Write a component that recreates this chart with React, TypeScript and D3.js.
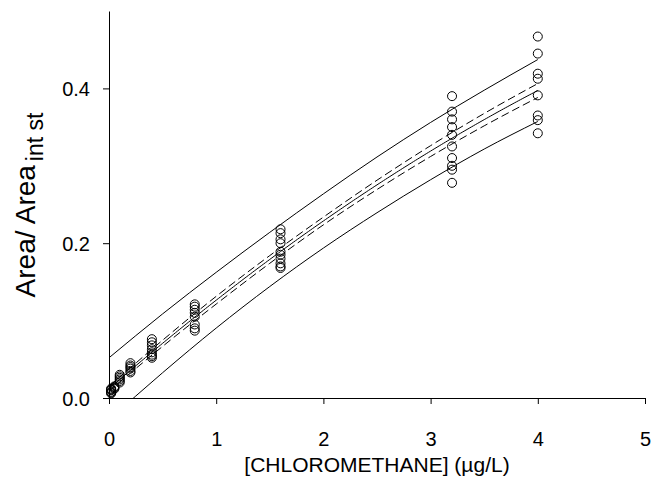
import React, { useEffect, useRef } from 'react';
import * as d3 from 'd3';

// calibration data: concentration (µg/L) and area ratios
const concentrations = [0.02, 0.05, 0.1, 0.2, 0.4, 0.8, 1.6, 3.2, 4.0];
const responses = [
  [0.006, 0.007, 0.008, 0.010, 0.011, 0.012],
  [0.012, 0.013, 0.014, 0.015],
  [0.020, 0.022, 0.024, 0.026, 0.028, 0.030],
  [0.033, 0.035, 0.038, 0.040, 0.042, 0.045],
  [0.052, 0.054, 0.056, 0.059, 0.063, 0.068, 0.072, 0.076],
  [0.087, 0.090, 0.095, 0.105, 0.110, 0.114, 0.118, 0.121],
  [0.168, 0.170, 0.174, 0.180, 0.185, 0.189, 0.200, 0.205, 0.213, 0.218],
  [0.278, 0.295, 0.300, 0.310, 0.325, 0.340, 0.350, 0.360, 0.370, 0.390],
  [0.342, 0.359, 0.365, 0.391, 0.4125, 0.419, 0.445, 0.467],
];
// half widths of the prediction (solid) and confidence (dashed) bands
const bandX = [0, 0.5, 1, 1.5, 2, 2.5, 3, 3.5, 4];
const predHalf = [0.040, 0.038, 0.036, 0.035, 0.035, 0.036, 0.037, 0.038, 0.040];
const confHalf = [0.003, 0.004, 0.005, 0.005, 0.005, 0.006, 0.007, 0.008, 0.009];
const xTicks = [0, 1, 2, 3, 4, 5];
const yTicks = [0, 0.2, 0.4];

// quadratic least squares fit
function quadFit(pts: [number, number][]) {
  const S = [0, 0, 0, 0, 0];
  const T = [0, 0, 0];
  pts.forEach(([x, y]) => {
    for (let k = 0; k < 5; k++) S[k] += Math.pow(x, k);
    for (let k = 0; k < 3; k++) T[k] += y * Math.pow(x, k);
  });
  // solve the 3x3 normal equations (Gauss)
  const A = [
    [S[0], S[1], S[2], T[0]],
    [S[1], S[2], S[3], T[1]],
    [S[2], S[3], S[4], T[2]],
  ];
  for (let i = 0; i < 3; i++) {
    for (let j = i + 1; j < 3; j++) {
      const r = A[j][i] / A[i][i];
      for (let k = i; k < 4; k++) A[j][k] -= r * A[i][k];
    }
  }
  const c = [0, 0, 0];
  for (let i = 2; i >= 0; i--) {
    let v = A[i][3];
    for (let k = i + 1; k < 3; k++) v -= A[i][k] * c[k];
    c[i] = v / A[i][i];
  }
  return (x: number) => c[0] + c[1] * x + c[2] * x * x;
}

const App = () => {
  const ref = useRef<SVGSVGElement>(null);

  useEffect(() => {
    document.body.style.margin = '0';
    const svg = d3.select(ref.current);
    svg.selectAll('*').remove();

    const width = 654;
    const height = 479;
    const margin = { top: 11, right: 9, bottom: 81, left: 109 };

    const x = d3.scaleLinear().domain([0, 5]).range([margin.left, width - margin.right]);
    const y = d3.scaleLinear().domain([0, 0.5]).range([height - margin.bottom, margin.top]);

    const pts: [number, number][] = [];
    concentrations.forEach((c, i) => responses[i].forEach(v => pts.push([c, v])));
    const f = quadFit(pts);

    const xs = d3.range(0, 4.0001, 0.02);
    const band = (half: number[], sign: number) =>
      bandX.map((xv, i) => [xv, f(xv) + sign * half[i]] as [number, number]);

    svg.append('defs').append('clipPath').attr('id', 'plot')
      .append('rect')
      .attr('x', margin.left).attr('y', margin.top)
      .attr('width', width - margin.left - margin.right)
      .attr('height', height - margin.top - margin.bottom);

    const line = d3.line<[number, number]>().x(d => x(d[0])).y(d => y(d[1]));
    const smooth = d3.line<[number, number]>().x(d => x(d[0])).y(d => y(d[1])).curve(d3.curveMonotoneX);
    const curves = svg.append('g').attr('clip-path', 'url(#plot)')
      .attr('fill', 'none').attr('stroke', '#000').attr('stroke-width', 1);

    curves.append('path').attr('d', line(xs.map(xv => [xv, f(xv)] as [number, number])));
    curves.append('path').attr('d', smooth(band(predHalf, 1)));
    curves.append('path').attr('d', smooth(band(predHalf, -1)));
    curves.append('path').attr('d', smooth(band(confHalf, 1))).attr('stroke-dasharray', '8,4');
    curves.append('path').attr('d', smooth(band(confHalf, -1))).attr('stroke-dasharray', '8,4');

    svg.append('g').selectAll('circle').data(pts).enter().append('circle')
      .attr('cx', d => x(d[0])).attr('cy', d => y(d[1])).attr('r', 4.5)
      .attr('fill', 'none').attr('stroke', '#000').attr('stroke-width', 1);

    const font = 'Arial, "Liberation Sans", sans-serif';

    const xAxis = svg.append('g')
      .attr('transform', `translate(0,${height - margin.bottom})`)
      .call(d3.axisBottom(x).tickValues(xTicks).tickSize(6).tickSizeOuter(0).tickFormat(d3.format('d')));
    const yAxis = svg.append('g')
      .attr('transform', `translate(${margin.left},0)`)
      .call(d3.axisLeft(y).tickValues(yTicks).tickSize(6).tickSizeOuter(0).tickFormat(d3.format('.1f')));

    [xAxis, yAxis].forEach(g => {
      g.select('.domain').attr('stroke', '#000');
      g.selectAll('.tick line').attr('stroke', '#000');
      g.selectAll('.tick text').attr('font-family', font).attr('font-size', 20).attr('fill', '#000');
    });
    xAxis.selectAll('.tick text').attr('y', 48).attr('dy', 0);
    yAxis.selectAll('.tick text').attr('x', -19).attr('dy', '0.36em');

    svg.append('text')
      .attr('x', 377).attr('y', 472)
      .attr('text-anchor', 'middle')
      .attr('font-family', font).attr('font-size', 21)
      .text('[CHLOROMETHANE] (\u00b5g/L)');

    const yt = svg.append('text')
      .attr('transform', 'translate(35,205) rotate(-90)')
      .attr('text-anchor', 'middle')
      .attr('font-family', font).attr('font-size', 28);
    yt.append('tspan').text('Area/ Area');
    yt.append('tspan').attr('dx', 4).attr('dy', 8).attr('font-size', 23).text('int st');
  }, []);

  return <svg ref={ref} width={654} height={479} style={{ display: 'block' }} />;
};

export default App;
